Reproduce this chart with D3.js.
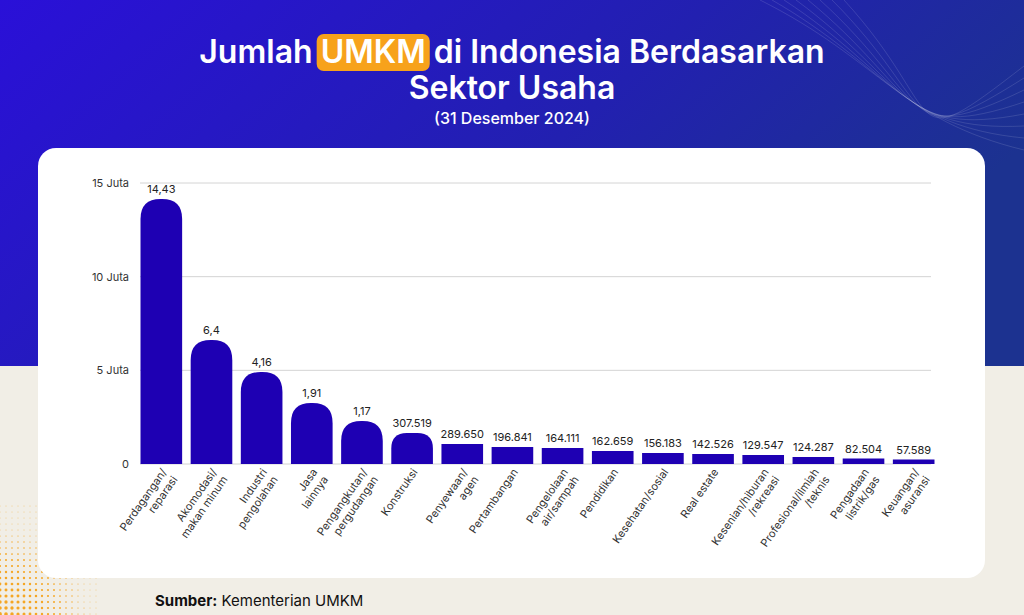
<!DOCTYPE html><html><head><meta charset="utf-8">
<script src="https://cdn.jsdelivr.net/npm/d3@7"></script>
<style>body{margin:0}svg{display:block;font-family:Inter,"Open Sans",sans-serif}</style></head><body>
<svg id="c" width="1024" height="615"></svg>
<script>
const categories=[["Perdagangan/","reparasi"],["Akomodasi/","makan minum"],["Industri","pengolahan"],["Jasa","lainnya"],["Pengangkutan/","pergudangan"],["Konstruksi"],["Penyewaan/","agen"],["Pertambangan"],["Pengelolaan","air/sampah"],["Pendidikan"],["Kesehatan/sosial"],["Real estate"],["Kesenian/hiburan","/rekreasi"],["Profesional/ilmiah","/teknis"],["Pengadaan","listrik/gas"],["Keuangan/","asuransi"]];
const valueLabels=["14,43","6,4","4,16","1,91","1,17","307.519","289.650","196.841","164.111","162.659","156.183","142.526","129.547","124.287","82.504","57.589"];
// bar heights as drawn in the reference (juta, not to true scale)
const barValues=[14.15,6.62,4.91,3.26,2.30,1.66,1.07,0.91,0.85,0.69,0.59,0.53,0.48,0.37,0.29,0.24];
const tickValues=[0,5,10,15];
const tickLabels=["0","5 Juta","10 Juta","15 Juta"];

const svg=d3.select("#c");
const defs=svg.append("defs");
const g1=defs.append("linearGradient").attr("id","bg").attr("x1",0).attr("x2",1).attr("y1",0).attr("y2",0.4);
g1.append("stop").attr("offset",0).attr("stop-color","#2a10d8");
g1.append("stop").attr("offset",0.6).attr("stop-color","#2220b0");
g1.append("stop").attr("offset",1).attr("stop-color","#1c3290");
svg.append("rect").attr("width",1024).attr("height",615).attr("fill","#f1eee6");
svg.append("rect").attr("width",1024).attr("height",366).attr("fill","url(#bg)");
for(let i=0;i<8;i++){svg.append("path").attr("d",`M${760+i*12},0 C${880+i*10},${60+i*8} ${900},${120+i*6} ${1024},${150-i*12}`).attr("fill","none").attr("stroke","rgba(255,255,255,0.12)");}
const dots=svg.append("g");
for(let x=0;x<100;x+=6)for(let y=500;y<615;y+=6){const d=Math.hypot(x,615-y);if(d<115)dots.append("circle").attr("cx",x).attr("cy",y).attr("r",Math.max(0.4,1.9*(1-d/115))).attr("fill","#f5a623");}
svg.append("rect").attr("x",38).attr("y",148).attr("width",947).attr("height",430).attr("rx",18).attr("fill","#fff");

const tg=svg.append("g").attr("font-family","Inter,sans-serif").attr("font-weight",600).attr("font-size",32).attr("fill","#fff");
const parts=["Jumlah ","UMKM"," di Indonesia Berdasarkan"];
const meas=parts.map(p=>{const tt=tg.append("text").attr("xml:space","preserve").text(p);const w=tt.node().getComputedTextLength();tt.remove();return w;});
const total=d3.sum(meas);let cx=512-total/2;
parts.forEach((p,i)=>{
 if(i==1)tg.append("rect").attr("x",cx-4).attr("y",34).attr("width",meas[i]+8).attr("height",37).attr("rx",7).attr("fill","#f7a21b");
 tg.append("text").attr("x",cx).attr("y",63).attr("xml:space","preserve").text(p);cx+=meas[i];
});
tg.append("text").attr("x",512).attr("y",99).attr("text-anchor","middle").text("Sektor Usaha");
tg.append("text").attr("x",512).attr("y",124).attr("text-anchor","middle").attr("font-size",16).attr("font-weight",500).text("(31 Desember 2024)");

const x=d3.scaleBand().domain(d3.range(categories.length)).range([138,937]).paddingInner(0.17).paddingOuter(0.05);
const y=d3.scaleLinear().domain([0,15]).range([464,183]);
const gg=svg.append("g");
tickValues.forEach((v,i)=>{
 gg.append("line").attr("x1",140).attr("x2",931).attr("y1",y(v)).attr("y2",y(v)).attr("stroke","#d4d4d4");
 gg.append("text").attr("x",129).attr("y",y(v)+4).attr("text-anchor","end").attr("font-size",11).attr("fill","#333").text(tickLabels[i]);
});
barValues.forEach((v,i)=>{
 const x0=x(i),w=x.bandwidth(),yt=y(v),yb=y(0),h=yb-yt;
 const r=h>25?Math.min(w/2,h/2,20):0;
 svg.append("path").attr("fill","#1e00b3").attr("d",`M${x0},${yb}V${yt+r}Q${x0},${yt} ${x0+r},${yt}H${x0+w-r}Q${x0+w},${yt} ${x0+w},${yt+r}V${yb}Z`);
 svg.append("text").attr("x",x0+w/2).attr("y",yt-6).attr("text-anchor","middle").attr("font-size",11).attr("fill","#222").text(valueLabels[i]);
 const lt=svg.append("text").attr("transform",`translate(${x0+w/2+6},${472}) rotate(-55)`).attr("text-anchor","end").attr("font-size",11).attr("fill","#333");
 categories[i].forEach((s,k)=>lt.append("tspan").attr("x",0).attr("y",k*13).text(s));
});
svg.append("text").attr("x",155).attr("y",606).attr("font-size",15).attr("fill","#111").html('<tspan font-weight="700">Sumber:</tspan> Kementerian UMKM');
</script></body></html>
